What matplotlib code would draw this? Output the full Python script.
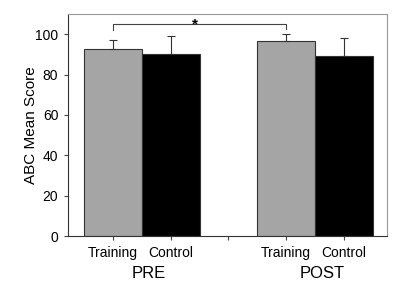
import numpy as np
import matplotlib
matplotlib.use('Agg')
import matplotlib.pyplot as plt

plt.rcParams['font.family'] = ['Liberation Sans', 'DejaVu Sans']

groups = ['PRE', 'POST']
conditions = ['Training', 'Control']
means = [92.6, 90.0, 96.5, 89.4]
errors = [4.6, 9.0, 3.8, 8.8]
bar_colors = ['#a5a5a5', '#000000', '#a5a5a5', '#000000']
positions = [1, 2, 4, 5]

fig = plt.figure(figsize=(3.93, 2.92), dpi=100)
ax = fig.add_axes([68/393, 1 - 236/292, (387-68)/393, (236-14)/292])

ax.bar(positions, means, width=1.0, color=bar_colors, edgecolor='#333333', linewidth=0.8)
ax.errorbar(positions, means, yerr=[np.zeros(4), errors], fmt='none',
            ecolor='#333333', elinewidth=0.8, capsize=2.6, capthick=0.8)

# significance bracket PRE training vs POST training
ax.plot([1, 1, 4, 4], [102.3, 105, 105, 102.8], color='#444444', lw=0.8)
ax.text(2.42, 103, '*', ha='center', va='baseline', fontsize=11, fontweight='bold')

ax.set_xlim(0.22, 5.75)
ax.set_ylim(0, 110)
ax.set_yticks([0, 20, 40, 60, 80, 100])
ax.set_xticks([1, 2, 3, 4, 5])
ax.set_xticklabels(['Training', 'Control', '', 'Training', 'Control'])
ax.tick_params(direction='out', length=3, width=0.8, labelsize=10, color='#444444', pad=4)
ax.set_ylabel('ABC Mean Score', fontsize=11, labelpad=-2)

for s in ['left', 'bottom']:
    ax.spines[s].set_color('#333333')
for s in ['top', 'right']:
    ax.spines[s].set_color('#999999')

fig.text(149/393, 1 - 274/292, groups[0], ha='center', va='center', fontsize=12)
fig.text(322/393, 1 - 274/292, groups[1], ha='center', va='center', fontsize=12)

fig.savefig('out.png', dpi=100)
